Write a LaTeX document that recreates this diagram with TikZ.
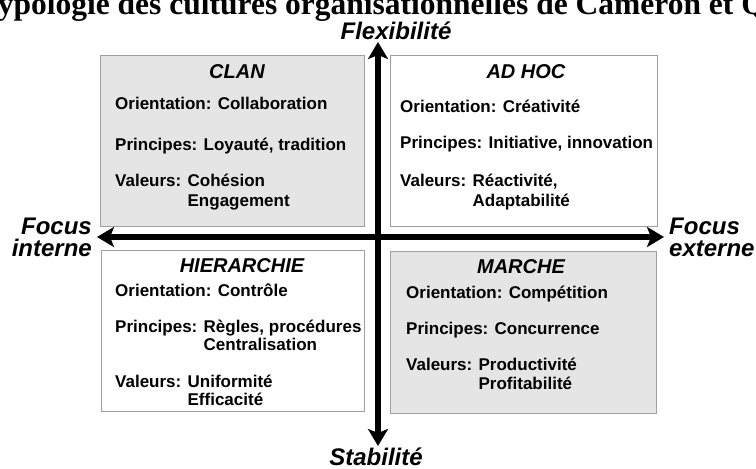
\documentclass[tikz,border=0pt]{standalone}
\usepackage{fontspec}
\setmainfont{Liberation Sans}
\newfontfamily\headfont{Liberation Serif}
\usetikzlibrary{arrows.meta}

\tikzset{
  quadbox/.style={draw=gray!75, line width=1pt},
  qtitle/.style={font=\bfseries\itshape\fontsize{20}{24}\selectfont, anchor=base, inner sep=0pt},
  qline/.style={font=\bfseries\fontsize{17}{21}\selectfont, anchor=base west, inner sep=0pt},
  axlabel/.style={font=\bfseries\itshape\fontsize{24}{26}\selectfont, inner sep=0pt},
  axe/.style={line width=6pt,
    {Stealth[length=17pt,width=20pt,inset=4pt]}-{Stealth[length=17pt,width=20pt,inset=4pt]}}
}

\begin{document}
\begin{tikzpicture}[x=1pt,y=-1pt]
  \useasboundingbox (0,0) rectangle (756,469);
  \clip (0,0) rectangle (756,469);

  % titre, coupe par le cadre
  \node[anchor=base west, inner sep=0pt, font=\headfont\bfseries\fontsize{31.5}{34}\selectfont]
    (titre) at (-21,14) {Typologie des cultures organisationnelles de Cameron et Quinn};

  % les quatre quadrants
  \draw[quadbox, fill=gray!20] (100,55) rectangle (364,226);
  \draw[quadbox] (390,55) rectangle (657,226);
  \draw[quadbox] (101,250) rectangle (364,411);
  \draw[quadbox, fill=gray!20] (390,251) rectangle (656,413);

  % axes
  \coordinate (haut) at (378,42);
  \coordinate (bas) at (378,446);
  \coordinate (gauche) at (97,237);
  \coordinate (droite) at (664,237);
  \draw[axe] (bas) -- (haut);
  \draw[axe] (gauche) -- (droite);

  \node[axlabel, anchor=base] (flex) at (396,39) {Flexibilité};
  \node[axlabel, anchor=base] (stab) at (376,465) {Stabilité};
  \node[axlabel, anchor=base east] (focusG) at (92,234) {Focus};
  \node[axlabel, anchor=base east] (interne) at (92,256) {interne};
  \node[axlabel, anchor=base west] (focusD) at (669,234) {Focus};
  \node[axlabel, anchor=base west] (externe) at (669,256) {externe};

  % clan
  \node[qtitle] (clan) at (237,78) {CLAN};
  \node[qline] (clanO) at (115,109) {Orientation: Collaboration};
  \node[qline] (clanP) at (115,150) {Principes: Loyauté, tradition};
  \node[qline] (clanV) at (115,186) {Valeurs: Cohésion};
  \node[qline] (clanV2) at (115,206) {\hphantom{Valeurs: }Engagement};

  % ad hoc
  \node[qtitle] (adhoc) at (526,78) {AD HOC};
  \node[qline] (adhocO) at (400,112) {Orientation: Créativité};
  \node[qline] (adhocP) at (400,148) {Principes: Initiative, innovation};
  \node[qline] (adhocV) at (400,186) {Valeurs: Réactivité,};
  \node[qline] (adhocV2) at (400,206) {\hphantom{Valeurs: }Adaptabilité};

  % hierarchie
  \node[qtitle] (hier) at (242,272) {HIERARCHIE};
  \node[qline] (hierO) at (115,296) {Orientation: Contrôle};
  \node[qline] (hierP) at (115,332) {Principes: Règles, procédures};
  \node[qline] (hierP2) at (115,350) {\hphantom{Principes: }Centralisation};
  \node[qline] (hierV) at (115,387) {Valeurs: Uniformité};
  \node[qline] (hierV2) at (115,405) {\hphantom{Valeurs: }Efficacité};

  % marche
  \node[qtitle] (marche) at (521,273) {MARCHE};
  \node[qline] (marcheO) at (406,298) {Orientation: Compétition};
  \node[qline] (marcheP) at (406,334) {Principes: Concurrence};
  \node[qline] (marcheV) at (406,370) {Valeurs: Productivité};
  \node[qline] (marcheV2) at (406,389) {\hphantom{Valeurs: }Profitabilité};
\end{tikzpicture}
\end{document}
